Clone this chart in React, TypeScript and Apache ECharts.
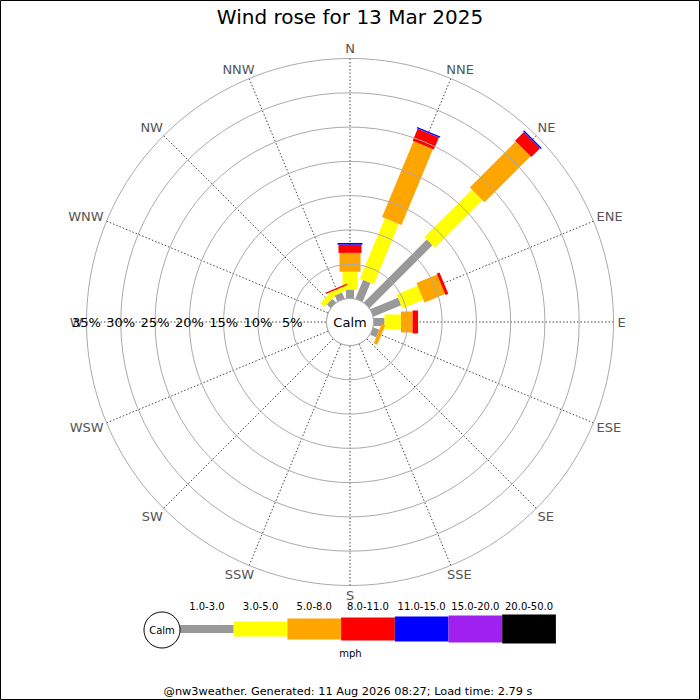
import React, { useEffect, useRef } from "react";
import * as echarts from "echarts";

const DIRECTIONS = ["N", "NNE", "NE", "ENE", "E", "ESE", "SE", "SSE", "S", "SSW", "SW", "WSW", "W", "WNW", "NW", "NNW"];
const SPEED_BANDS = ["1.0-3.0", "3.0-5.0", "5.0-8.0", "8.0-11.0", "11.0-15.0", "15.0-20.0", "20.0-50.0"];
const BAND_COLORS = ["#999999", "#ffff00", "#ffa500", "#ff0000", "#0000ff", "#a020f0", "#000000"];
const BAND_WIDTHS = [8, 15, 21, 23, 25, 27, 29];

// % of time, per direction (N..NNW), per speed band (mph)
const BAND_1_3 = [1.3, 3.0, 13.0, 4.4, 1.6, 0.95, 0, 0, 0, 0, 0, 0, 0, 0, 0.8, 1.0];
const BAND_3_5 = [2.6, 9.5, 9.8, 3.3, 2.4, 0, 0, 0, 0, 0, 0, 0, 0, 0, 0.8, 0.7];
const BAND_5_8 = [2.75, 12.0, 9.5, 3.25, 1.7, 0.55, 0, 0, 0, 0, 0, 0, 0, 0, 0, 0];
const BAND_8_11 = [1.2, 1.9, 1.8, 0.45, 0.8, 0, 0, 0, 0, 0, 0, 0, 0, 0, 0, 0.2];
const BAND_11_15 = [0.25, 0.2, 0.2, 0, 0, 0, 0, 0, 0, 0, 0, 0, 0, 0, 0, 0];
const BAND_15_20 = [0, 0, 0, 0, 0, 0, 0, 0, 0, 0, 0, 0, 0, 0, 0, 0];
const BAND_20_50 = [0, 0, 0, 0, 0, 0, 0, 0, 0, 0, 0, 0, 0, 0, 0, 0];

const RADIUS_MAX = 35;
const RADIUS_STEP = 5;

const TITLE = "Wind rose for 13 Mar 2025";
const UNIT = "mph";
const CALM = "Calm";
const FOOTER = "@nw3weather. Generated: 11 Aug 2026 08:27; Load time: 2.79 s";

const FONT = "DejaVu Sans";
const DIR_FONT_SIZE = 13;

function toAxisAngle(deg: number) {
  return deg < 270 ? deg + 360 : deg;
}

export default function App() {
  const ref = useRef<HTMLDivElement>(null);

  useEffect(() => {
    document.body.style.margin = "0";
    if (!ref.current) return;
    const chart = echarts.init(ref.current, undefined, { renderer: "svg" });

    const bands = [BAND_1_3, BAND_3_5, BAND_5_8, BAND_8_11, BAND_11_15, BAND_15_20, BAND_20_50];
    const data: number[][] = [];
    DIRECTIONS.forEach((_, d) => {
      const deg = toAxisAngle(d * 22.5);
      let acc = 0;
      bands.forEach((arr, b) => {
        const v = arr[d];
        if (v > 0) {
          data.push([acc, acc + v, deg, b]);
          acc += v;
        }
      });
    });

    const labelData = DIRECTIONS.map((_, d) => [RADIUS_MAX, toAxisAngle(d * 22.5), d]);

    const canvas = document.createElement("canvas");
    const ctx = canvas.getContext("2d");
    const measure = (t: string) => {
      if (!ctx) return t.length * DIR_FONT_SIZE * 0.7;
      ctx.font = `${DIR_FONT_SIZE}px "${FONT}"`;
      return ctx.measureText(t).width;
    };

    const cx = 350;
    const cy = 322;
    const innerR = 23.5;
    const outerR = 263.5;

    const legendX0 = 180;
    const legendW = 53.7;
    const legendCy = 629;

    const legendGraphics: any[] = [];
    SPEED_BANDS.forEach((name, i) => {
      const h = BAND_WIDTHS[i];
      legendGraphics.push({
        type: "rect",
        shape: { x: legendX0 + i * legendW, y: legendCy - h / 2, width: legendW, height: h },
        style: { fill: BAND_COLORS[i] },
      });
      legendGraphics.push({
        type: "text",
        x: legendX0 + i * legendW + legendW / 2,
        y: 606.5,
        style: { text: name, fontSize: 10, fontFamily: FONT, fill: "#000", align: "center", verticalAlign: "middle" },
      });
    });

    chart.setOption({
      animation: false,
      polar: { center: [cx, cy], radius: [innerR, outerR] },
      angleAxis: {
        type: "value",
        min: 270,
        max: 630,
        interval: 22.5,
        startAngle: 180,
        clockwise: true,
        axisLine: { show: false },
        axisTick: { show: false },
        axisLabel: { show: false },
        splitLine: { show: true, lineStyle: { color: "#444", width: 1, type: [1.5, 2] } },
      },
      radiusAxis: {
        type: "value",
        min: 0,
        max: RADIUS_MAX,
        interval: RADIUS_STEP,
        axisLine: { show: false },
        axisTick: { show: false },
        axisLabel: {
          margin: 0,
          color: "#000",
          fontSize: 13,
          fontFamily: FONT,
          align: "center",
          verticalAlign: "middle",
          formatter: (v: number) => (v === 0 ? "" : v + "%"),
        },
        splitLine: { show: true, lineStyle: { color: "#aaa", width: 1 } },
        z: 5,
      },
      series: [
        {
          type: "custom",
          coordinateSystem: "polar",
          encode: { radius: 1, angle: 2 },
          data,
          clip: false,
          renderItem: (params: any, api: any) => {
            const r0 = api.value(0);
            const r1 = api.value(1);
            const ang = api.value(2);
            const b = api.value(3);
            const pa = api.coord([0, ang]);
            const pb = api.coord([RADIUS_MAX, ang]);
            const dx = pb[0] - pa[0];
            const dy = pb[1] - pa[1];
            const len = Math.hypot(dx, dy) || 1;
            const nx = -dy / len;
            const ny = dx / len;
            const h = BAND_WIDTHS[b] / 2;
            const p0 = api.coord([r0, ang]);
            const p1 = api.coord([r1, ang]);
            return {
              type: "polygon",
              shape: {
                points: [
                  [p0[0] + nx * h, p0[1] + ny * h],
                  [p1[0] + nx * h, p1[1] + ny * h],
                  [p1[0] - nx * h, p1[1] - ny * h],
                  [p0[0] - nx * h, p0[1] - ny * h],
                ],
              },
              style: { fill: BAND_COLORS[b], stroke: null },
            };
          },
        },
        {
          type: "custom",
          coordinateSystem: "polar",
          encode: { radius: 0, angle: 1 },
          data: labelData,
          clip: false,
          silent: true,
          renderItem: (params: any, api: any) => {
            const ang = api.value(1);
            const idx = api.value(2);
            const name = DIRECTIONS[idx];
            const pa = api.coord([0, ang]);
            const pb = api.coord([api.value(0), ang]);
            const dx = pb[0] - pa[0];
            const dy = pb[1] - pa[1];
            const len = Math.hypot(dx, dy) || 1;
            const ux = dx / len;
            const uy = dy / len;
            const w = measure(name);
            const gap = 4;
            const ox = ux * gap + Math.sign(ux) * (w / 2) * Math.pow(Math.abs(ux), 0.6);
            const oy = uy * gap + Math.sign(uy) * 6 * Math.pow(Math.abs(uy), 0.6);
            return {
              type: "text",
              x: pb[0] + ox,
              y: pb[1] + oy,
              style: {
                text: name,
                fontSize: DIR_FONT_SIZE,
                fontFamily: FONT,
                fill: "#555",
                align: "center",
                verticalAlign: "middle",
              },
            };
          },
        },
      ],
      graphic: [
        {
          type: "rect",
          shape: { x: 0.5, y: 0.5, width: 699, height: 699 },
          style: { fill: "none", stroke: "#000", lineWidth: 1 },
          z: 100,
        },
        {
          type: "text",
          x: 350,
          y: 17,
          style: { text: TITLE, fontSize: 20, fontFamily: FONT, fill: "#000", align: "center", verticalAlign: "middle" },
        },
        {
          type: "circle",
          shape: { cx, cy, r: innerR },
          style: { fill: "#fff", stroke: "#aaa", lineWidth: 1 },
          z: 10,
        },
        {
          type: "text",
          x: cx,
          y: cy,
          style: { text: CALM, fontSize: 13, fontFamily: FONT, fill: "#000", align: "center", verticalAlign: "middle" },
          z: 11,
        },
        {
          type: "circle",
          shape: { cx: 162, cy: 630, r: 18 },
          style: { fill: "#fff", stroke: "#000", lineWidth: 1 },
          z: 10,
        },
        {
          type: "text",
          x: 162,
          y: 630,
          style: { text: CALM, fontSize: 10, fontFamily: FONT, fill: "#000", align: "center", verticalAlign: "middle" },
          z: 11,
        },
        ...legendGraphics,
        {
          type: "text",
          x: 350.5,
          y: 653,
          style: { text: UNIT, fontSize: 10, fontFamily: FONT, fill: "#000", align: "center", verticalAlign: "middle" },
        },
        {
          type: "text",
          x: 348,
          y: 691,
          style: { text: FOOTER, fontSize: 11.3, fontFamily: FONT, fill: "#000", align: "center", verticalAlign: "middle" },
        },
      ],
    });

    return () => chart.dispose();
  }, []);

  return <div ref={ref} style={{ width: 700, height: 700 }} />;
}
